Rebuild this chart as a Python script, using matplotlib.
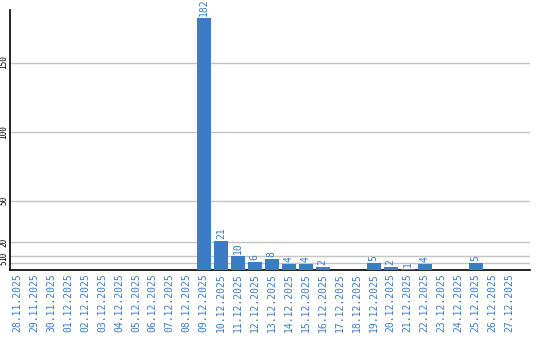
import matplotlib
matplotlib.use("Agg")
import matplotlib.pyplot as plt
import numpy as np

dates = ["28.11.2025", "29.11.2025", "30.11.2025", "01.12.2025", "02.12.2025",
         "03.12.2025", "04.12.2025", "05.12.2025", "06.12.2025", "07.12.2025",
         "08.12.2025", "09.12.2025", "10.12.2025", "11.12.2025", "12.12.2025",
         "13.12.2025", "14.12.2025", "15.12.2025", "16.12.2025", "17.12.2025",
         "18.12.2025", "19.12.2025", "20.12.2025", "21.12.2025", "22.12.2025",
         "23.12.2025", "24.12.2025", "25.12.2025", "26.12.2025", "27.12.2025"]
values = [0, 0, 0, 0, 0, 0, 0, 0, 0, 0, 0, 182, 21, 10, 6, 8, 4, 4, 2, 0, 0,
          5, 2, 1, 4, 0, 0, 5, 0, 0]
yticks = [5, 10, 20, 50, 100, 150]

blue = "#3b7cc4"
mono = "DejaVu Sans Mono"

fig = plt.figure(figsize=(5.4, 3.4), dpi=100)
ax = fig.add_axes([10/540, 1 - 270/340, 520/540, 260/340])

x = np.arange(len(dates))
ax.bar(x, values, width=0.82, color=blue, zorder=3)
for xi, v in zip(x, values):
    if v > 0:
        ax.text(xi, v + 1.5, str(v), rotation=90, ha="center", va="bottom",
                color=blue, fontsize=7, family=mono, zorder=4)

ax.set_xlim(-0.41, 30.2)
ax.set_ylim(0, 188)
ax.set_yticks(yticks)
ax.set_yticklabels([str(t) for t in yticks], rotation=90, va="center",
                   fontsize=5.5, family=mono)
ax.set_xticks(x)
ax.set_xticklabels(dates, rotation=90, fontsize=7, family=mono, color=blue)
ax.tick_params(axis="x", length=0, pad=2)
ax.tick_params(axis="y", length=0, pad=1)
ax.grid(axis="y", color="#c4c4c4", linewidth=1, zorder=0)
for s in ["top", "right"]:
    ax.spines[s].set_visible(False)
ax.spines["left"].set_color("black")
ax.spines["bottom"].set_color("black")
ax.spines["left"].set_linewidth(1.2)
ax.spines["bottom"].set_linewidth(1.2)

fig.savefig("out.png", dpi=100)
